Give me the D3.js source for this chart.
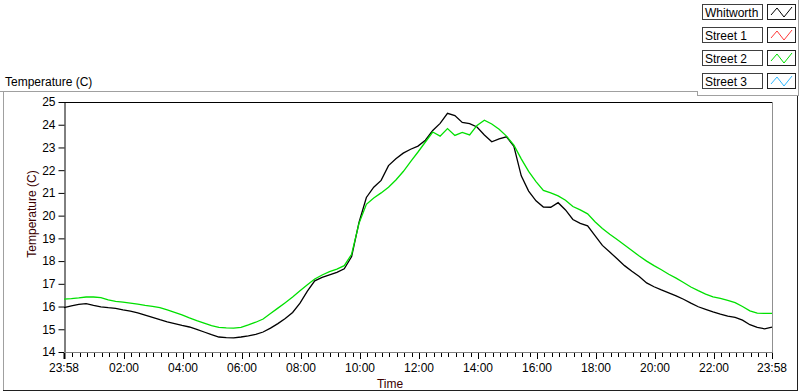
<!DOCTYPE html>
<html>
<head>
<meta charset="utf-8">
<script src="https://cdn.jsdelivr.net/npm/d3@7/dist/d3.min.js"></script>
<style>
  html, body { margin: 0; padding: 0; background: #fff; }
  svg { display: block; font-family: "Liberation Sans", Arial, sans-serif; }
</style>
</head>
<body>
<div id="chart"></div>
<script>
// samples every 15 minutes, starting 23:58
const startTime = new Date(2015, 0, 1, 23, 58);
const stepMinutes = 15;

const whitworth = [
  15.95, 16.03, 16.10, 16.13, 16.05, 15.99, 15.95, 15.92, 15.85, 15.80,
  15.72, 15.62, 15.52, 15.42, 15.33, 15.25, 15.17, 15.10, 15.00, 14.88,
  14.76, 14.66, 14.63, 14.62, 14.66, 14.71, 14.78, 14.88, 15.05, 15.25,
  15.47, 15.74, 16.15, 16.68, 17.13, 17.28, 17.39, 17.50, 17.66, 18.20,
  19.70, 20.80, 21.25, 21.55, 22.20, 22.50, 22.75, 22.92, 23.06, 23.32,
  23.75, 24.06, 24.50, 24.40, 24.10, 24.05, 23.90, 23.55, 23.25, 23.38,
  23.47, 23.05, 21.75, 21.08, 20.65, 20.38, 20.37, 20.57, 20.25, 19.83,
  19.66, 19.55, 19.12, 18.69, 18.40, 18.10, 17.80, 17.55, 17.32, 17.04,
  16.87, 16.73, 16.60, 16.47, 16.32, 16.15, 15.99, 15.88, 15.77, 15.67,
  15.58, 15.52, 15.40, 15.20, 15.08, 15.02, 15.09
];

const street2 = [
  16.33, 16.35, 16.38, 16.42, 16.42, 16.39, 16.29, 16.23, 16.19, 16.15,
  16.11, 16.05, 16.01, 15.95, 15.85, 15.74, 15.63, 15.50, 15.38, 15.27,
  15.16, 15.08, 15.06, 15.05, 15.08, 15.19, 15.31, 15.45, 15.69, 15.93,
  16.17, 16.42, 16.69, 16.96, 17.21, 17.39, 17.54, 17.65, 17.80, 18.30,
  19.66, 20.50, 20.78, 21.00, 21.25, 21.57, 21.94, 22.38, 22.80, 23.24,
  23.68, 23.50, 23.83, 23.53, 23.66, 23.55, 23.97, 24.20, 24.03, 23.80,
  23.50, 23.10, 22.50, 21.95, 21.50, 21.11, 21.00, 20.87, 20.68, 20.40,
  20.25, 20.08, 19.73, 19.43, 19.18, 18.95, 18.71, 18.47, 18.22, 18.00,
  17.80, 17.62, 17.42, 17.25, 17.06, 16.86, 16.70, 16.55, 16.43, 16.36,
  16.27, 16.17, 16.00, 15.81, 15.71, 15.70, 15.70
];

const legendNames = ['Whitworth', 'Street 1', 'Street 2', 'Street 3'];
const legendColors = ['#000000', '#ff3a3a', '#00e000', '#30b8ff'];
const yTicks = [14, 15, 16, 17, 18, 19, 20, 21, 22, 23, 24, 25];

const width = 800, height = 392;
const plot = { left: 64, right: 772, top: 102, bottom: 352 };

const svg = d3.select('#chart').append('svg')
  .attr('width', width)
  .attr('height', height);

const endTime = d3.timeHour.offset(startTime, 24);

const x = d3.scaleTime()
  .domain([startTime, endTime])
  .range([plot.left, plot.right]);

const y = d3.scaleLinear()
  .domain([14, 25])
  .range([plot.bottom, plot.top]);

// outer panel frame
svg.append('line').attr('x1', 0).attr('x2', 697).attr('y1', 91.5).attr('y2', 91.5).attr('stroke', '#a0a0a0');
svg.append('line').attr('x1', 3.5).attr('x2', 3.5).attr('y1', 91).attr('y2', 390).attr('stroke', '#a0a0a0');
svg.append('line').attr('x1', 797.5).attr('x2', 797.5).attr('y1', 96).attr('y2', 391).attr('stroke', '#202020');
svg.append('line').attr('x1', 3).attr('x2', 798).attr('y1', 390.5).attr('y2', 390.5).attr('stroke', '#202020');

svg.append('text')
  .attr('x', 5)
  .attr('y', 86)
  .style('font-size', '12px')
  .attr('fill', '#000')
  .text('Temperature (C)');

// plot area
svg.append('rect')
  .attr('x', plot.left).attr('y', plot.top)
  .attr('width', plot.right - plot.left).attr('height', plot.bottom - plot.top)
  .attr('fill', '#fff');

svg.append('line').attr('x1', plot.left).attr('x2', plot.right).attr('y1', plot.top + 0.5).attr('y2', plot.top + 0.5).attr('stroke', '#000');
svg.append('line').attr('x1', plot.right + 0.5).attr('x2', plot.right + 0.5).attr('y1', plot.top).attr('y2', plot.bottom).attr('stroke', '#909090');

// y axis
const yAxis = svg.append('g')
  .attr('transform', `translate(${plot.left + 0.5},0)`)
  .call(d3.axisLeft(y).tickValues(yTicks).tickSize(6).tickPadding(3).tickSizeOuter(0));
yAxis.select('.domain').attr('stroke', '#000');
yAxis.selectAll('.tick line').attr('stroke', '#000');
yAxis.selectAll('text').style('font-size', '12px').attr('fill', '#000');

// x axis: majors every 2 h plus both ends, minors every 15 min
const majors = [startTime].concat(d3.timeHour.every(2).range(d3.timeMinute.offset(startTime, 5), endTime)).concat([endTime]);
const minors = d3.timeMinute.every(15).range(startTime, endTime)
  .filter(t => majors.every(m => Math.abs(x(m) - x(t)) > 3));

svg.append('line')
  .attr('x1', plot.left).attr('x2', plot.right + 1)
  .attr('y1', plot.bottom + 0.5).attr('y2', plot.bottom + 0.5)
  .attr('stroke', '#808080');

svg.append('g')
  .selectAll('line')
  .data(minors)
  .join('line')
  .attr('x1', d => Math.round(x(d)) + 0.5).attr('x2', d => Math.round(x(d)) + 0.5)
  .attr('y1', plot.bottom + 1).attr('y2', plot.bottom + 5)
  .attr('stroke', '#000');

svg.append('g')
  .selectAll('line')
  .data(majors)
  .join('line')
  .attr('x1', d => Math.round(x(d)) + 0.5).attr('x2', d => Math.round(x(d)) + 0.5)
  .attr('y1', plot.bottom + 1).attr('y2', plot.bottom + 7)
  .attr('stroke', '#000')
  .attr('stroke-width', (d, i) => i === 0 ? 2 : 1);

const fmt = d3.timeFormat('%H:%M');
svg.append('g')
  .selectAll('text')
  .data(majors)
  .join('text')
  .attr('x', d => x(d))
  .attr('y', 372)
  .attr('text-anchor', 'middle')
  .style('font-size', '12px')
  .attr('fill', '#000')
  .text(d => fmt(d));

svg.append('text')
  .attr('x', 390)
  .attr('y', 388)
  .attr('text-anchor', 'middle')
  .style('font-size', '12px')
  .attr('fill', '#3a0000')
  .text('Time');

svg.append('text')
  .attr('transform', 'translate(36,214) rotate(-90)')
  .attr('text-anchor', 'middle')
  .style('font-size', '12px')
  .attr('fill', '#3a0000')
  .text('Temperature (C)');

// series
const line = d3.line()
  .x((d, i) => x(d3.timeMinute.offset(startTime, i * stepMinutes)))
  .y(d => y(d));

svg.append('path')
  .datum(whitworth)
  .attr('d', line)
  .attr('fill', 'none')
  .attr('stroke', '#000')
  .attr('stroke-width', 1.3);

svg.append('path')
  .datum(street2)
  .attr('d', line)
  .attr('fill', 'none')
  .attr('stroke', '#00e000')
  .attr('stroke-width', 1.3);

// legend
svg.append('line').attr('x1', 697).attr('x2', 799).attr('y1', 95.5).attr('y2', 95.5).attr('stroke', '#a0a0a0');
svg.append('line').attr('x1', 697.5).attr('x2', 697.5).attr('y1', 91).attr('y2', 96).attr('stroke', '#a0a0a0');
svg.append('line').attr('x1', 798.5).attr('x2', 798.5).attr('y1', 0).attr('y2', 96).attr('stroke', '#a0a0a0');

const legend = svg.append('g')
  .selectAll('g')
  .data(legendNames)
  .join('g')
  .attr('transform', (d, i) => `translate(0,${4 + i * 23})`);

legend.append('rect')
  .attr('x', 702.5).attr('y', 0.5)
  .attr('width', 60).attr('height', 15)
  .attr('fill', '#fff')
  .attr('stroke', '#404040');

legend.append('text')
  .attr('x', 705)
  .attr('y', 13)
  .style('font-size', '12px')
  .attr('fill', '#000')
  .text(d => d);

legend.append('rect')
  .attr('x', 767.5).attr('y', 0.5)
  .attr('width', 28).attr('height', 15)
  .attr('fill', '#fff')
  .attr('stroke', '#202020');

legend.append('polyline')
  .attr('points', '770,12 775,5 781,13 787,12 793,3')
  .attr('points', '771,11 777,4 784,13 792,3')
  .attr('fill', 'none')
  .attr('stroke', (d, i) => legendColors[i])
  .attr('stroke-width', 1);
</script>
</body>
</html>
